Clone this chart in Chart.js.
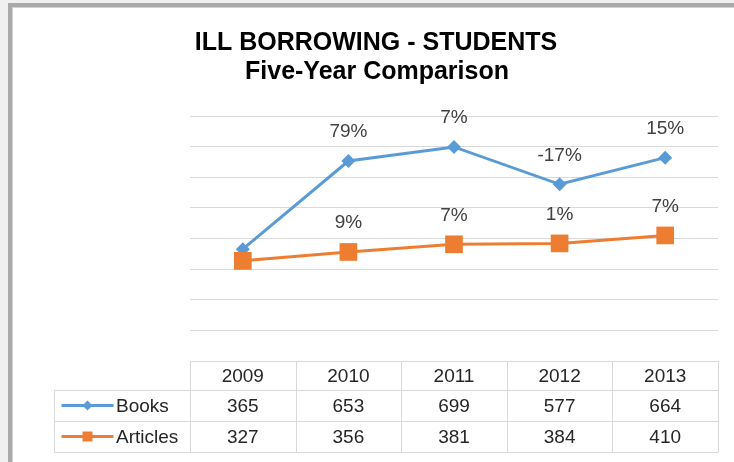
<!DOCTYPE html>
<html>
<head>
<meta charset="utf-8">
<title>ILL Borrowing - Students</title>
<script src="https://cdn.jsdelivr.net/npm/chart.js@4"></script>
<style>
  html, body { margin: 0; padding: 0; background: #f0f0f0; overflow: hidden; }
  #frame {
    position: absolute; left: 8px; top: 3px; width: 780px; height: 520px;
    background: #fff;
    border-top: 4px solid #a9a9a9; border-left: 4px solid #a9a9a9;
    box-shadow: inset 1px 1px 0 #d2d2d2;
  }
  #chart { position: absolute; left: 0; top: 0; }
</style>
</head>
<body>
<div id="frame"></div>
<canvas id="chart" width="734" height="462"></canvas>
<script>
const years = ["2009", "2010", "2011", "2012", "2013"];
const books = [365, 653, 699, 577, 664];
const articles = [327, 356, 381, 384, 410];
const titleLines = ["ILL BORROWING - STUDENTS", "Five-Year Comparison"];

const BLUE = "#5b9bd5";
const ORANGE = "#ed7d31";
const GRID = "#d9d9d9";
const FONT = '"Liberation Sans", Arial, sans-serif';

// year-over-year change, shown above each point (first year has none)
function yearChange(values) {
  return values.map((v, i) =>
    i === 0 ? null : Math.round((v / values[i - 1] - 1) * 100) + "%"
  );
}

function drawKey(ctx, cx, cy, color, shape) {
  ctx.strokeStyle = color;
  ctx.fillStyle = color;
  ctx.lineWidth = 3;
  ctx.beginPath();
  ctx.moveTo(cx - 26, cy);
  ctx.lineTo(cx + 26, cy);
  ctx.stroke();
  ctx.beginPath();
  if (shape === "diamond") {
    ctx.moveTo(cx - 5, cy);
    ctx.lineTo(cx, cy - 5);
    ctx.lineTo(cx + 5, cy);
    ctx.lineTo(cx, cy + 5);
    ctx.closePath();
  } else {
    ctx.rect(cx - 5, cy - 5, 10, 10);
  }
  ctx.fill();
}

const tableAndLabels = {
  id: "tableAndLabels",
  afterDatasetsDraw(chart) {
    const ctx = chart.ctx;
    ctx.save();
    ctx.font = `19px ${FONT}`;
    ctx.fillStyle = "#404040";
    ctx.textAlign = "center";
    ctx.textBaseline = "middle";
    chart.data.datasets.forEach((ds, d) => {
      const labels = yearChange(ds.data);
      chart.getDatasetMeta(d).data.forEach((pt, i) => {
        if (labels[i]) ctx.fillText(labels[i], pt.x, pt.y - 29);
      });
    });
    ctx.restore();
  },
  afterDraw(chart) {
    const ctx = chart.ctx;
    const area = chart.chartArea;
    const xs = chart.scales.x;
    const colW = (area.right - area.left) / years.length;
    const top = Math.round(area.bottom);
    const rowY = [top, top + 29, top + 60, top + 91];
    const keyLeft = 54;

    ctx.save();

    // title
    ctx.fillStyle = "#000";
    ctx.font = `bold 25px ${FONT}`;
    ctx.textAlign = "center";
    ctx.textBaseline = "middle";
    ctx.fillText(titleLines[0], 376, 43);
    ctx.fillText(titleLines[1], 377, 72);

    // data table grid
    ctx.strokeStyle = GRID;
    ctx.lineWidth = 1;
    ctx.beginPath();
    ctx.moveTo(area.left, rowY[0] + 0.5);
    ctx.lineTo(area.right, rowY[0] + 0.5);
    for (let r = 1; r < rowY.length; r++) {
      ctx.moveTo(keyLeft, rowY[r] + 0.5);
      ctx.lineTo(area.right, rowY[r] + 0.5);
    }
    ctx.moveTo(keyLeft + 0.5, rowY[1]);
    ctx.lineTo(keyLeft + 0.5, rowY[3]);
    for (let c = 0; c <= years.length; c++) {
      const x = Math.round(area.left + c * colW) + 0.5;
      ctx.moveTo(x, rowY[0]);
      ctx.lineTo(x, rowY[3]);
    }
    ctx.stroke();

    // table text
    ctx.font = `19px ${FONT}`;
    ctx.fillStyle = "#262626";
    ctx.textAlign = "center";
    const rows = [years, books, articles];
    rows.forEach((row, r) => {
      const cy = (rowY[r] + rowY[r + 1]) / 2 + 1;
      row.forEach((v, i) => ctx.fillText(String(v), xs.getPixelForValue(i), cy));
    });

    // series keys in the first column
    const names = chart.data.datasets.map((ds) => ds.label);
    const shapes = ["diamond", "square"];
    const colors = [BLUE, ORANGE];
    names.forEach((name, k) => {
      const cy = (rowY[k + 1] + rowY[k + 2]) / 2;
      drawKey(ctx, 87.5, cy, colors[k], shapes[k]);
      ctx.fillStyle = "#262626";
      ctx.textAlign = "left";
      ctx.fillText(name, 116, cy + 1);
    });

    ctx.restore();
  },
};

new Chart(document.getElementById("chart"), {
  type: "line",
  data: {
    labels: years,
    datasets: [
      {
        label: "Books",
        data: books,
        borderColor: BLUE,
        backgroundColor: BLUE,
        borderWidth: 3,
        pointStyle: "rectRot",
        pointRadius: 7,
        pointBorderWidth: 0,
        order: 1,
        clip: false,
      },
      {
        label: "Articles",
        data: articles,
        borderColor: ORANGE,
        backgroundColor: ORANGE,
        borderWidth: 3,
        pointStyle: "rect",
        pointRadius: 12.5,
        pointBorderWidth: 0,
        order: 0,
        clip: false,
      },
    ],
  },
  options: {
    responsive: false,
    animation: false,
    events: [],
    layout: { padding: { left: 190, right: 16, top: 116, bottom: 101 } },
    plugins: {
      legend: { display: false },
      title: { display: false },
      tooltip: { enabled: false },
    },
    scales: {
      x: { display: false, offset: true },
      y: {
        min: 0,
        max: 800,
        ticks: { display: false, stepSize: 100 },
        grid: { color: GRID, drawTicks: false },
        border: { display: false },
      },
    },
  },
  plugins: [tableAndLabels],
});
</script>
</body>
</html>
